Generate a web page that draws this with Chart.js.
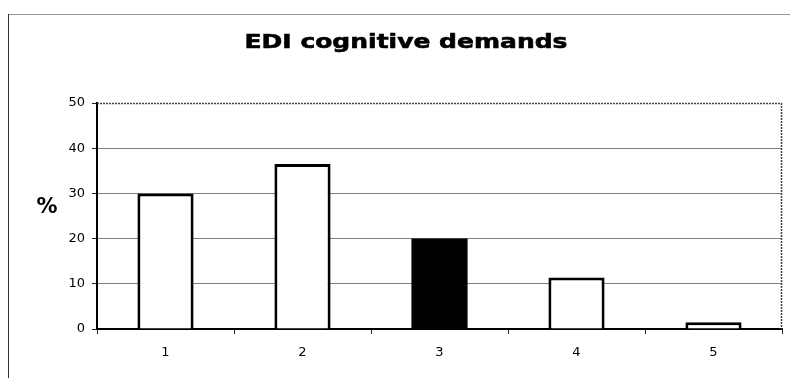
<!DOCTYPE html>
<html>
<head>
<meta charset="utf-8">
<style>
  html, body { margin: 0; padding: 0; background: #fff; }
  #chart { display: block; }
</style>
<script src="https://cdn.jsdelivr.net/npm/chart.js"></script>
</head>
<body>
<canvas id="chart" width="794" height="378"></canvas>
<script>
'use strict';

// Share of answers per level
var levels = ['1', '2', '3', '4', '5'];
var percents = [30, 36.5, 20, 11.4, 1.5];
var fillColors = ['#fff', '#fff', '#000', '#fff', '#fff'];
var yTicks = [0, 10, 20, 30, 40, 50];
var chartTitle = 'EDI cognitive demands';

var fontFamily = '"DejaVu Sans", Verdana, sans-serif';

// Outer frame, wide title, plot border and the "%" axis label
var decorations = {
  id: 'decorations',
  beforeDraw: function(chart) {
    var ctx = chart.ctx;
    ctx.save();
    ctx.fillStyle = '#fff';
    ctx.fillRect(0, 0, chart.width, chart.height);
    ctx.lineWidth = 1;
    ctx.strokeStyle = '#999';
    ctx.beginPath();
    ctx.moveTo(8, 14.5);
    ctx.lineTo(790, 14.5);
    ctx.stroke();
    ctx.strokeStyle = '#333';
    ctx.beginPath();
    ctx.moveTo(8.5, 14);
    ctx.lineTo(8.5, chart.height);
    ctx.stroke();

    // title, stretched sideways like a wide Verdana bold
    ctx.fillStyle = '#000';
    ctx.strokeStyle = '#000';
    ctx.lineWidth = 0.6;
    ctx.font = 'bold 20px ' + fontFamily;
    ctx.textAlign = 'center';
    ctx.textBaseline = 'middle';
    ctx.translate(406, 43);
    ctx.scale(1.25, 1);
    ctx.fillText(chartTitle, 0, 0);
    ctx.strokeText(chartTitle, 0, 0);
    ctx.restore();
  },
  afterDraw: function(chart) {
    var ctx = chart.ctx;
    var area = chart.chartArea;
    ctx.save();
    ctx.strokeStyle = '#444';
    ctx.lineWidth = 1.5;
    ctx.setLineDash([2, 1]);
    ctx.beginPath();
    ctx.moveTo(area.left, area.top + 0.5);
    ctx.lineTo(area.right - 0.5, area.top + 0.5);
    ctx.lineTo(area.right - 0.5, area.bottom);
    ctx.stroke();
    ctx.setLineDash([]);
    ctx.fillStyle = '#000';
    ctx.font = 'bold 21px ' + fontFamily;
    ctx.textAlign = 'center';
    ctx.textBaseline = 'middle';
    ctx.fillText('%', area.left - 50, area.top + 105);
    ctx.restore();
  }
};

new Chart(document.getElementById('chart'), {
  type: 'bar',
  data: {
    labels: levels,
    datasets: [{
      data: percents,
      backgroundColor: fillColors,
      borderColor: '#000',
      // the solid bar needs no outline
      borderWidth: [3, 3, 0, 3, 3],
      barPercentage: 0.41,
      categoryPercentage: 1
    }]
  },
  options: {
    responsive: false,
    animation: false,
    layout: { padding: { left: 30, right: 12, top: 103, bottom: 0 } },
    plugins: {
      legend: { display: false },
      tooltip: { enabled: false },
      title: { display: false }
    },
    scales: {
      x: {
        afterFit: function(scale) { scale.height = 49; },
        grid: {
          drawOnChartArea: false,
          drawTicks: true,
          tickLength: 5,
          color: '#222'
        },
        border: { color: '#000', width: 2 },
        ticks: {
          color: '#000',
          padding: 11,
          font: { family: fontFamily, size: 13 }
        }
      },
      y: {
        min: 0,
        max: 50,
        afterFit: function(scale) { scale.width = 67; },
        afterBuildTicks: function(scale) {
          scale.ticks = yTicks.map(function(v) { return { value: v }; });
        },
        grid: {
          color: function(c) { return (c.tick.value === 0 || c.tick.value === 50) ? 'rgba(0,0,0,0)' : '#808080'; },
          tickColor: '#222',
          tickLength: 5
        },
        border: { color: '#000', width: 2 },
        ticks: {
          color: '#000',
          padding: 7,
          font: { family: fontFamily, size: 13 }
        }
      }
    }
  },
  plugins: [decorations]
});
</script>
</body>
</html>
